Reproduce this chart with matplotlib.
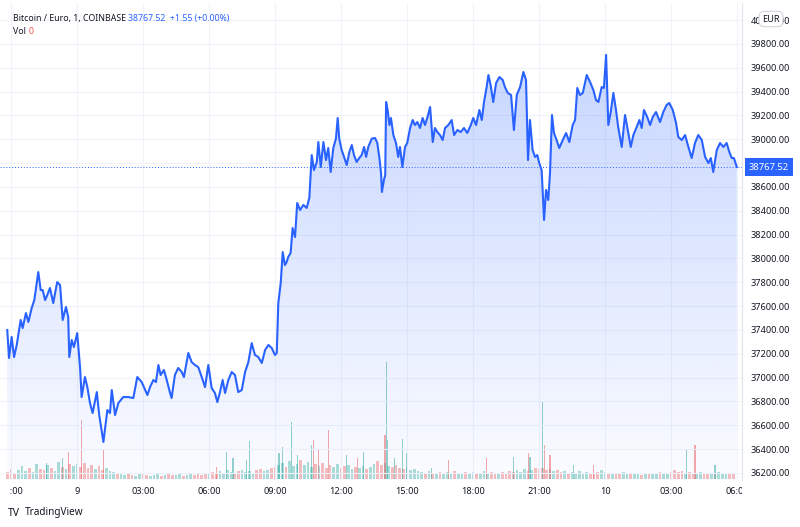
import matplotlib
matplotlib.use("Agg")
import matplotlib.pyplot as plt
import matplotlib.colors as mcolors
import numpy as np
from matplotlib.patches import Polygon
from matplotlib.transforms import Bbox, TransformedBbox, blended_transform_factory

# price (hours since 9th 00:00, EUR)
t_hours = [
    -3.17, -3.09, -2.97, -2.86, -2.74, -2.56, -2.47, -2.32, -2.21, -2.06, -1.94, -1.76, -1.65, -1.56,
    -1.45, -1.35, -1.23, -1.08, -0.97, -0.90, -0.77, -0.65, -0.50, -0.40, -0.35, -0.24, -0.14, 0.01,
    0.14, 0.21, 0.36, 0.47, 0.59, 0.71, 0.90, 1.01, 1.20, 1.38, 1.50, 1.58, 1.73, 1.88, 2.10, 2.33,
    2.56, 2.74, 2.94,
    3.20, 3.32, 3.47, 3.59, 3.70, 3.80, 3.95, 4.08, 4.23, 4.30, 4.45, 4.60, 4.76, 4.86, 5.06, 5.21,
    5.36, 5.51, 5.67, 5.82, 5.97, 6.12, 6.27, 6.38, 6.50, 6.62, 6.73, 6.88, 7.03, 7.18, 7.33, 7.49,
    7.64, 7.79, 7.94, 8.09, 8.24, 8.40, 8.55, 8.70, 8.85, 9.00, 9.08, 9.15, 9.26, 9.35, 9.45, 9.53,
    9.60, 9.71, 9.80, 9.91, 10.01, 10.14,
    10.29, 10.44, 10.56, 10.67, 10.77, 10.90, 10.97, 11.08, 11.20, 11.32, 11.42, 11.53, 11.65, 11.77,
    11.85, 11.92, 12.03, 12.14, 12.26, 12.38, 12.49, 12.59, 12.71, 12.83, 12.94, 13.05, 13.14, 13.24,
    13.40, 13.55, 13.65, 13.74, 13.82, 13.86, 13.95, 14.01, 14.05, 14.12, 14.20, 14.27, 14.38, 14.50,
    14.60, 14.68, 14.79, 14.91, 15.01, 15.14, 15.26, 15.36, 15.47, 15.59, 15.71, 15.82, 15.92, 16.05,
    16.17, 16.27, 16.38,
    16.50, 16.62, 16.73, 16.88, 17.03, 17.14, 17.29, 17.44, 17.59, 17.74, 17.90, 18.01, 18.14, 18.29,
    18.40, 18.50, 18.62, 18.70, 18.80, 18.92, 19.05, 19.20, 19.35, 19.45, 19.58, 19.73, 19.86, 19.99,
    20.14, 20.29, 20.41, 20.50, 20.59, 20.71, 20.82, 20.92, 21.01, 21.12, 21.23, 21.32, 21.42, 21.50,
    21.59, 21.68, 21.80, 21.92, 22.08, 22.23, 22.38, 22.53, 22.64, 22.74, 22.86, 22.99, 23.17,
    23.32, 23.47, 23.59, 23.70, 23.85, 23.95, 24.05, 24.10, 24.15, 24.26, 24.38, 24.50, 24.60, 24.76,
    24.91, 25.06, 25.17, 25.29, 25.44, 25.56, 25.67, 25.77, 25.92, 26.05, 26.17, 26.32, 26.50, 26.65,
    26.80, 26.92, 27.08, 27.23, 27.33, 27.49, 27.64, 27.79, 27.94, 28.09, 28.24, 28.40, 28.55, 28.70,
    28.81, 28.92, 29.08, 29.23, 29.38, 29.53, 29.65, 29.76, 29.86, 29.99,
]
price = [
    37400, 37165, 37341, 37173, 37274, 37484, 37416, 37542, 37467, 37584, 37651, 37886, 37735, 37735,
    37651, 37693, 37752, 37626, 37735, 37802, 37777, 37484, 37593, 37509, 37173, 37316, 37257, 37374,
    37081, 36837, 37005, 36921, 36787, 36703, 36879, 36686, 36460, 36728, 36703, 36896, 36686, 36787,
    36837, 36837, 36829, 37005, 36963,
    36854, 36921, 36980, 36963, 37106, 37022, 37064, 36980, 36871, 36829, 37022, 37081, 37047, 37005,
    37207, 37131, 37106, 37089, 37005, 36921, 37106, 36913, 36871, 36795, 36879, 36980, 36871, 36980,
    37047, 37022, 36879, 36896, 37047, 37131, 37290, 37190, 37173, 37123, 37232, 37274, 37249, 37190,
    37207, 37626, 37794, 38054, 37945, 37970, 38012, 38046, 38256, 38180, 38466, 38407,
    38449, 38424, 38508, 38868, 38742, 38810, 38977, 38768, 38977, 38826, 38927, 38726, 38927, 39006,
    39179, 39006, 38910, 38852, 38784, 38894, 38952, 38868, 38810, 38843, 38868, 38936, 38852, 38936,
    39006, 39011, 38969, 38852, 38717, 38558, 38659, 38700, 39313, 39246, 39120, 39179, 39036, 38969,
    38852, 38936, 38768, 38936, 38969, 39095, 39162, 39120, 39145, 39095, 39179, 39120, 39179, 39271,
    38977, 39095, 39061,
    39036, 38994, 39095, 39120, 39162, 39036, 39078, 39061, 39095, 39053, 39120, 39179, 39120, 39246,
    39162, 39313, 39439, 39540, 39456, 39313, 39473, 39523, 39498, 39439, 39389, 39372, 39078, 39372,
    39439, 39565, 39498, 38826, 39162, 38910, 38852, 38868, 38801, 38742, 38323, 38575, 38491, 38717,
    39204, 39053, 38994, 38927, 38994, 39053, 38977, 39120, 39162, 39431, 39372, 39389, 39540,
    39481, 39414, 39330, 39313, 39439, 39431, 39708, 39414, 39120, 39229, 39389, 39246, 39103, 38936,
    39204, 39053, 38936, 39036, 39103, 39162, 39095, 39246, 39187, 39120, 39187, 39229, 39145, 39229,
    39288, 39305, 39246, 39137, 39020, 38994, 39036, 38936, 38843, 38969, 39036, 38994, 38852, 38801,
    38843, 38726, 38910, 38969, 38936, 38969, 38894, 38843, 38843, 38767.52,
]
last_price = 38767.52

# volume: background level every 10 minutes (minutes since 9th 00:00), plus the spikes
vol_minutes = list(range(-190, 1800, 10))
vol_base = [
    1.4, 2.0, 1.2, 1.8, 2.6, 1.6, 2.2, 1.4, 3.0, 2.0, 1.8, 2.8, 2.2, 1.6, 3.4, 2.4, 2.0, 3.0, 2.6,
    3.0, 2.4, 3.2, 2.2, 2.8, 2.0, 2.6, 1.8, 2.2, 1.6, 1.4, 1.2,
    1.0, 0.8, 1.2, 0.9, 0.7, 1.0, 1.1, 0.8, 0.6, 0.9, 1.0, 0.7, 0.8, 1.2, 0.9, 0.8, 1.0, 0.7, 0.9, 1.1,
    0.8, 1.0, 0.9, 1.3, 1.0, 1.4, 1.2, 1.6, 1.3, 1.8, 1.4, 1.2, 1.6, 1.9, 1.5, 1.7, 1.3, 1.8, 2.0, 1.6,
    1.8, 2.2, 2.4,
    2.8, 3.2, 2.4, 3.6, 2.6, 3.0, 3.8, 2.8, 3.4, 2.4, 3.0, 2.6, 3.2, 2.2, 2.8, 2.4, 3.0, 2.2, 2.6, 2.8,
    2.0, 2.4, 2.2, 2.6, 2.0, 2.4, 3.0, 3.6, 2.8, 3.2, 2.6, 2.4, 2.8, 2.2, 2.0, 2.4, 1.8, 2.0, 1.6,
    1.4, 1.2, 1.6, 1.0, 1.3, 1.5, 1.1, 1.4, 1.2, 1.6, 1.3, 1.0, 1.4, 1.2, 1.5, 1.1, 1.3, 1.6, 1.2, 1.4,
    1.0, 1.3, 1.5, 1.2, 1.6, 1.4, 1.8, 1.5, 2.0, 1.6, 1.8, 2.2, 2.0,
    2.2, 1.8, 2.0, 1.6, 1.8, 1.4, 1.6, 1.2, 1.5, 1.3, 1.6, 1.2, 1.4, 1.1, 1.3, 1.5, 1.8, 1.4, 1.2, 1.0,
    1.3, 1.1, 1.4, 1.2, 1.0, 1.3, 1.1, 0.9, 1.2, 1.0, 1.3, 1.1, 1.4, 1.2, 1.0, 1.5, 1.8, 1.4, 1.6, 1.2,
    1.4, 1.1, 1.3, 1.5, 1.2, 1.0, 1.3, 1.1, 1.4, 1.2, 1.0, 1.2, 1.1,
]
spike_hours = [-1.38, -0.65, -0.40, 0.01, 0.21, 1.20, 6.35, 6.80, 7.09, 7.71, 7.86, 9.18, 9.33, 9.76,
               10.01, 10.67, 10.74, 10.97, 11.42, 12.03, 12.26, 12.76, 13.01, 14.00, 14.08, 14.12,
               14.45, 14.80, 14.99, 16.12, 16.88, 18.62, 19.83, 20.51, 20.59, 21.15, 21.23, 21.50,
               22.56, 23.47, 24.03, 27.71, 28.09, 29.00]
spike_vol = [3.2, 4.2, 5.4, 7.4, 11.8, 5.8, 2.4, 5.4, 4.2, 3.8, 7.6, 5.2, 6.4, 11.4, 4.8, 6.8, 7.8,
             5.8, 9.8, 3.4, 4.8, 4.2, 5.4, 8.8, 23.4, 7.8, 4.2, 8.0, 5.2, 2.2, 3.8, 4.2, 4.4, 5.2,
             4.4, 15.4, 6.8, 4.8, 2.8, 2.8, 5.8, 5.8, 6.8, 2.8]
spike_dir = "ggrgrrrgggggggggrrrggrgrggggggrrgrggrrgrggrgg"[:44]

x_ticks = [-3, 0, 3, 6, 9, 12, 15, 18, 21, 24, 27, 30]
x_labels = ["21:00", "9", "03:00", "06:00", "09:00", "12:00", "15:00", "18:00", "21:00", "10",
            "03:00", "06:00"]
y_ticks = list(range(36200, 40001, 200))

BLUE = "#2962ff"
UP = "#26a69a"
DOWN = "#ef5350"
TXT = "#131722"
GRID = "#f0f3fa"

plt.rcParams["font.family"] = ["Noto Sans", "DejaVu Sans"]

t = np.array(t_hours)
p = np.array(price)
ylo, yhi = 36141, 40144

fig = plt.figure(figsize=(8, 5.27), dpi=100, facecolor="white")
ax = fig.add_axes([0, 47 / 527, 742 / 800, 477 / 527])
axv = ax.twinx()
ax.set_zorder(axv.get_zorder() + 1)
ax.patch.set_visible(False)
axv.set_facecolor("white")

# volume bars
vt = np.array(vol_minutes) / 60.0
prev = np.interp(vt - 10 / 60, t, p)
now = np.interp(vt, t, p)
base_cols = [UP if a >= b else DOWN for a, b in zip(now, prev)]
axv.bar(vt, vol_base, width=8 / 60, color=base_cols, alpha=0.38, linewidth=0)
spike_cols = [UP if c == "g" else DOWN for c in spike_dir]
axv.bar(spike_hours, spike_vol, width=3 / 60, color=spike_cols, alpha=0.5, linewidth=0)
axv.set_ylim(-0.2, 95.2)
axv.set_yticks([])
for s in axv.spines.values():
    s.set_visible(False)

# gradient area under the line
clip = Polygon(np.column_stack([np.r_[t[0], t, t[-1]], np.r_[ylo, p, ylo]]), closed=True,
               facecolor="none", edgecolor="none", transform=ax.transData)
ax.add_patch(clip)
grad = np.zeros((256, 2, 4))
grad[..., :3] = mcolors.to_rgb(BLUE)
grad[..., 3] = np.linspace(0.02, 0.26, 256)[:, None]
im = ax.imshow(grad, extent=[t[0], t[-1], ylo, p.max()], origin="lower", aspect="auto",
               interpolation="bilinear", zorder=1)
im.set_clip_path(clip)

ax.plot(t, p, color=BLUE, lw=1.5, zorder=3, solid_joinstyle="round")
ax.axhline(last_price, color=BLUE, lw=0.7, ls=(0, (1, 2)), zorder=2)

ax.set_xlim(-3.5, 30.227)
ax.set_ylim(ylo, yhi)
ax.set_xticks(x_ticks)
ax.set_xticklabels([])
ax.set_yticks(y_ticks)
# 38800 sits under the last-price tag, as in the source
ax.set_yticklabels(["" if v == 38800 else f"{v:.2f}" for v in y_ticks])
ax.yaxis.tick_right()
ax.tick_params(axis="both", length=0, labelsize=6.6, labelcolor=TXT)
ax.tick_params(axis="y", pad=6)
ax.grid(True, color=GRID, lw=0.8)
ax.set_axisbelow(True)
for name, s in ax.spines.items():
    s.set_visible(name == "right")
ax.spines["right"].set_color("#e0e3eb")
ax.spines["right"].set_linewidth(0.8)

# time labels, clipped at the chart edges like the source
cb = TransformedBbox(Bbox([[9.5 / 800, 0], [742 / 800, 1]]), fig.transFigure)
xlab_tr = blended_transform_factory(ax.transData, fig.transFigure)
for h, lab in zip(x_ticks, x_labels):
    tx = fig.text(h, 1 - 492 / 527, lab, transform=xlab_tr, ha="center", va="center",
                  fontsize=6.6, color=TXT, clip_on=True)
    tx.set_clip_box(cb)

# last price tag
blend = blended_transform_factory(ax.transAxes, ax.transData)
ax.text(1.0094, last_price, f"{last_price:.2f}", transform=blend, ha="left", va="center",
        fontsize=6.8, color="white", clip_on=False, zorder=5,
        bbox=dict(boxstyle="square,pad=0.45", fc=BLUE, ec="none"))

# header
fig.text(13 / 800, 1 - 18 / 527, "Bitcoin / Euro, 1, COINBASE", fontsize=6.3, color=TXT, va="center")
fig.text(128 / 800, 1 - 18 / 527, "38767.52  +1.55 (+0.00%)", fontsize=6.3, color=BLUE, va="center")
fig.text(13 / 800, 1 - 31 / 527, "Vol", fontsize=6.3, color=TXT, va="center")
fig.text(29 / 800, 1 - 31 / 527, "0", fontsize=6.3, color=DOWN, va="center")

# currency badge
fig.text(771 / 800, 1 - 19 / 527, "EUR", fontsize=6.6, color=TXT, ha="center", va="center", zorder=10,
         bbox=dict(boxstyle="round,pad=0.35,rounding_size=0.6", fc="white", ec="#d1d4dc", lw=0.8))

# footer logo
fig.text(8 / 800, 1 - 513 / 527, "TV", fontsize=7.5, fontweight="heavy", color=TXT, va="center")
fig.text(25 / 800, 1 - 513 / 527, "TradingView", fontsize=7.2, color=TXT, va="center")

fig.savefig("out.png", dpi=100, facecolor="white")
